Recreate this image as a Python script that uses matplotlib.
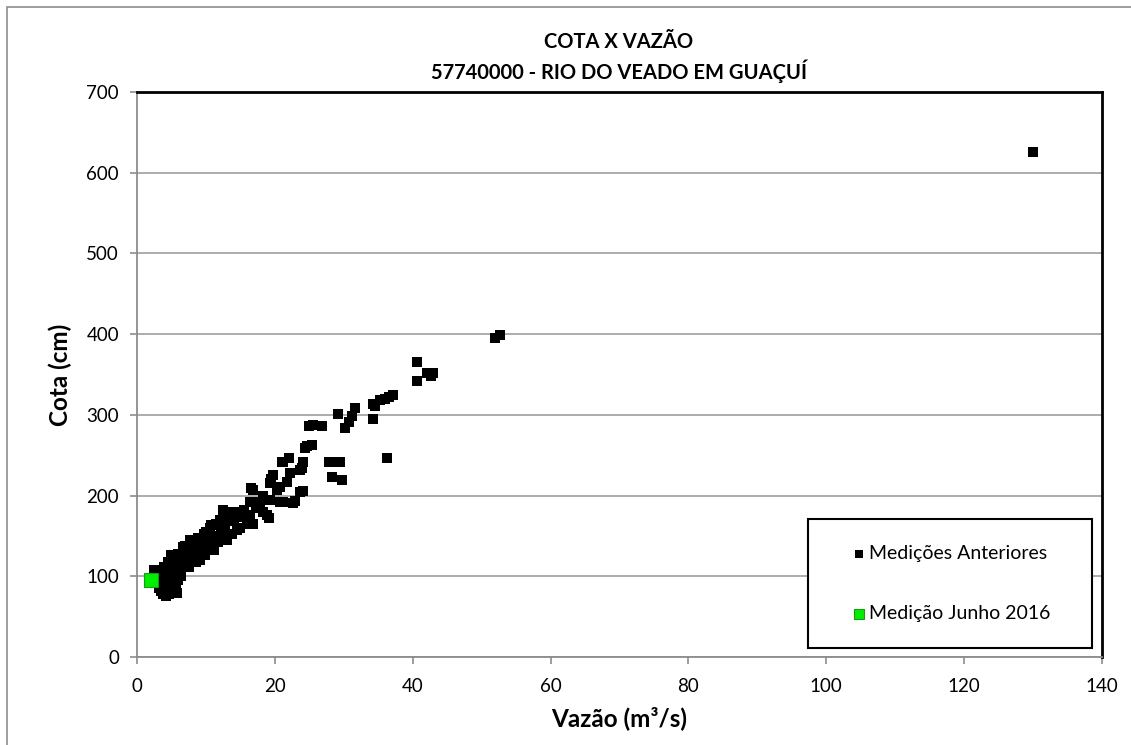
import numpy as np
import matplotlib.pyplot as plt
from matplotlib.patches import Rectangle

plt.rcParams['font.family'] = ['Lato', 'DejaVu Sans']

# Medições anteriores: vazão (m3/s) e cota (cm)
vazao_ant = [
    2.5, 2.8, 3.0, 3.2, 3.5, 3.8, 4.2, 4.6, 5.0, 5.4, 5.8, 5.6, 6.0,
    3.2, 3.6, 3.9, 4.1, 4.4, 4.8, 5.2, 5.5, 3.9, 4.3, 4.7, 5.1, 5.5,
    4.5, 4.9, 5.3, 5.8, 6.2, 6.4, 6.6,
    5.9, 6.3, 6.7, 7.0, 7.3, 7.6, 7.7, 8.0, 8.2, 8.5, 8.8, 9.1, 9.1,
    9.4, 9.7, 9.9, 10.2, 10.6, 10.8, 11.1, 11.4, 6.9, 7.9, 8.6, 9.3,
    10.0, 10.5,
    10.7, 11.5, 12.0, 12.5, 13.0, 13.5, 12.2, 12.8, 13.8, 14.0, 14.5,
    14.9, 15.4, 15.0, 15.9, 16.4, 11.8, 12.4, 13.3, 14.2, 15.5,
    16.4, 16.9, 16.9, 17.2, 17.9, 18.3, 18.8, 19.1, 19.3, 19.5, 19.8,
    20.3, 20.7, 20.8, 21.0, 21.2, 21.7, 22.0, 22.2, 22.7, 22.9, 23.7,
    23.7, 24.1, 24.1, 24.6, 25.4, 24.4, 24.9, 25.6, 26.8, 17.6, 18.3,
    16.6, 19.3, 23.9, 21.2,
    27.8, 28.5, 29.5, 28.3, 29.7, 29.1, 30.2, 30.8, 31.2, 31.6, 34.2,
    34.3, 34.5, 35.3, 36.0, 36.6, 37.2, 36.2, 40.6, 40.6, 42.0, 42.6,
    43.0, 52.0, 52.6, 130.0,
]
cota_ant = [
    108, 100, 92, 86, 82, 78, 76, 78, 80, 84, 79, 90, 96,
    104, 98, 90, 84, 88, 92, 96, 102, 112, 106, 100, 108, 112,
    118, 126, 120, 116, 108, 100, 112,
    128, 122, 136, 128, 120, 112, 145, 134, 126, 118, 148, 140, 120,
    132, 152, 126, 144, 160, 138, 133, 150, 138, 140, 130, 145,
    155, 148,
    163, 165, 170, 182, 145, 180, 155, 162, 152, 168, 157,
    180, 174, 160, 165, 176, 142, 150, 172, 175, 182,
    192, 207, 165, 185, 192, 200, 176, 172, 194, 221, 226,
    207, 211, 192, 242, 192, 217, 246, 228, 191, 193, 205,
    232, 206, 242, 261, 263, 259, 286, 288, 286, 186, 180,
    209, 215, 234, 242,
    241, 241, 241, 223, 219, 301, 284, 291, 298, 309, 295,
    313, 311, 318, 320, 322, 324, 246, 365, 342, 352, 348,
    352, 395, 399, 626,
]

# Medição de junho de 2016
vazao_jun = [2.0]
cota_jun = [95]

fig = plt.figure(figsize=(11.31, 7.45), dpi=100)
ax = fig.add_axes([137 / 1131, 1 - 657 / 745, 965 / 1131, 565 / 745])

# moldura do gráfico
fig.patches.append(Rectangle((7 / 1131, -0.02), 1.05, 1 - 7 / 745 + 0.02,
                             transform=fig.transFigure, fill=False,
                             edgecolor='#8c8c8c', linewidth=1.2, zorder=0))

ax.scatter(vazao_ant, cota_ant, marker='s', s=48, color='black',
           linewidths=0, zorder=3, label='Medições Anteriores')
ax.scatter(vazao_jun, cota_jun, marker='s', s=105, color='#00ee00',
           edgecolors='#1a9a1a', linewidths=0.8, zorder=4,
           label='Medição Junho 2016')

ax.set_xlim(0, 140)
ax.set_ylim(0, 700)
ax.set_xticks(np.arange(0, 141, 20))
ax.set_yticks(np.arange(0, 701, 100))
ax.yaxis.grid(True, color='#a6a6a6', linewidth=1.3)
ax.set_axisbelow(True)

for lado in ['left', 'bottom']:
    ax.spines[lado].set_color('#8c8c8c')
    ax.spines[lado].set_linewidth(1.3)
for lado in ['top', 'right']:
    ax.spines[lado].set_color('black')
    ax.spines[lado].set_linewidth(2)
ax.tick_params(direction='out', length=5, width=1.2, color='#8c8c8c',
               labelsize=13.5)
ax.tick_params(axis='x', pad=10)
ax.tick_params(axis='y', pad=8)

ax.set_xlabel('Vazão (m³/s)', fontsize=17.5, fontweight='bold', labelpad=8)
ax.set_ylabel('Cota (cm)', fontsize=17.5, fontweight='bold', labelpad=10)
fig.text(619 / 1131, 1 - 42 / 745, 'COTA X VAZÃO', ha='center', va='center',
         fontsize=14.5, fontweight='bold')
fig.text(619 / 1131, 1 - 71 / 745, '57740000 - RIO DO VEADO EM GUAÇUÍ',
         ha='center', va='center', fontsize=14.5, fontweight='bold')

# caixa da legenda
caixa = (0.695, 0.016, 0.295, 0.228)
ax.add_patch(Rectangle(caixa[:2], caixa[2], caixa[3], transform=ax.transAxes,
                       facecolor='white', edgecolor='black', linewidth=1.5,
                       zorder=5))
leg = ax.legend(loc='center', bbox_to_anchor=caixa, frameon=False,
                fontsize=14, labelspacing=2.2, handletextpad=0.0,
                handlelength=1.0, markerscale=0.75)
leg.set_zorder(6)

fig.savefig('out.png', dpi=100)
